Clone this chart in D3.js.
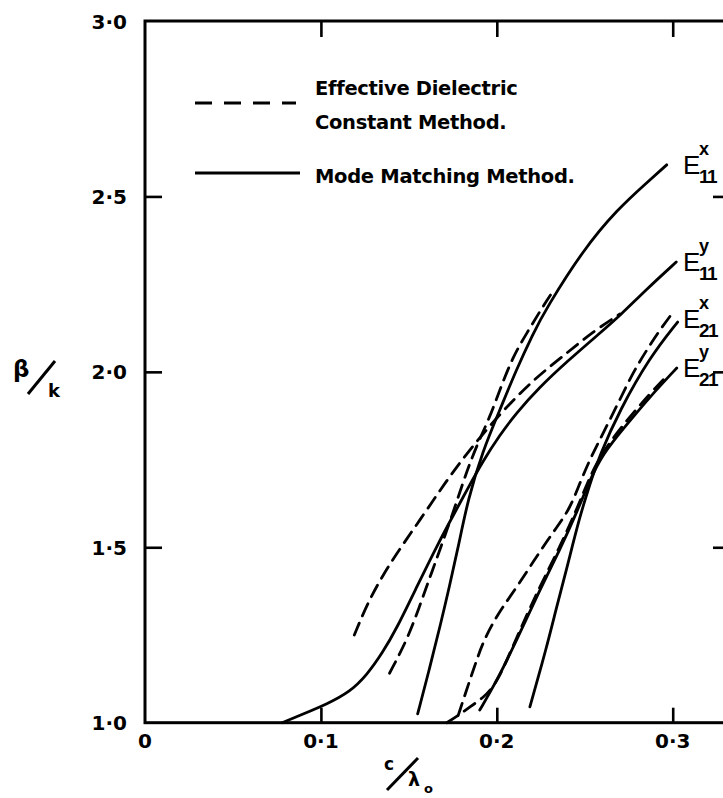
<!DOCTYPE html>
<html>
<head>
<meta charset="utf-8">
<script src="https://cdn.jsdelivr.net/npm/d3@7/dist/d3.min.js"></script>
<style>
  html, body { margin: 0; padding: 0; background: #fff; }
  svg { display: block; }
</style>
</head>
<body>
<svg id="chart" width="723" height="798"></svg>
<script>
// Normalised propagation constant β/k against guide size c/λo
// for the four lowest modes, comparing two methods.

const xTickValues = [0, 0.1, 0.2, 0.3];
const xTickLabels = ["0", "0·1", "0·2", "0·3"];
const yTickValues = [1.0, 1.5, 2.0, 2.5, 3.0];
const yTickLabels = ["1·0", "1·5", "2·0", "2·5", "3·0"];

const legendLabels = ["Effective Dielectric", "Constant Method.", "Mode Matching Method."];

// Mode Matching Method (solid)
const e11xMM = [[0.155,1.025],[0.162,1.159],[0.168,1.28],[0.173,1.387],[0.1785,1.51],[0.1835,1.635],
  [0.192,1.775],[0.2017,1.891],[0.211,2.005],[0.2205,2.108],[0.228,2.18],[0.249,2.347],[0.268,2.461],
  [0.287,2.547],[0.2966,2.59]];
const e11yMM = [[0.078,1.0],[0.09,1.025],[0.1034,1.053],[0.1165,1.088],[0.126,1.135],[0.135,1.199],
  [0.143,1.268],[0.1545,1.387],[0.166,1.505],[0.1773,1.61],[0.183,1.663],[0.192,1.745],[0.2017,1.82],
  [0.211,1.882],[0.224,1.955],[0.240,2.03],[0.2585,2.11],[0.27,2.16],[0.285,2.235],[0.302,2.313]];
const e21xMM = [[0.2188,1.045],[0.2284,1.216],[0.234,1.33],[0.2398,1.44],[0.247,1.585],[0.2528,1.678],
  [0.2585,1.763],[0.2699,1.891],[0.287,2.042],[0.3028,2.142]];
const e21yMM = [[0.1903,1.036],[0.200,1.119],[0.2114,1.236],[0.2244,1.378],[0.2358,1.492],[0.246,1.606],
  [0.2528,1.69],[0.260,1.765],[0.2739,1.85],[0.2869,1.928],[0.3023,2.011]];

// Effective Dielectric Constant Method (dashed)
const e11xEDC = [[0.139,1.141],[0.149,1.236],[0.156,1.33],[0.162,1.415],[0.1676,1.492],[0.175,1.597],
  [0.1807,1.683],[0.1847,1.74],[0.190,1.806],[0.196,1.871],[0.2017,1.948],[0.209,2.042],[0.217,2.11],
  [0.226,2.185],[0.232,2.23]];
const e11yEDC = [[0.119,1.25],[0.126,1.335],[0.135,1.42],[0.1466,1.508],[0.1545,1.565],[0.163,1.627],
  [0.169,1.672],[0.183,1.769],[0.2017,1.88],[0.2205,1.977],[0.240,2.054],[0.2545,2.114],[0.27,2.165]];
const e21xEDC = [[0.178,1.02],[0.1847,1.122],[0.1886,1.179],[0.192,1.227],[0.1977,1.284],[0.2034,1.33],
  [0.2114,1.387],[0.2188,1.444],[0.2261,1.5],[0.2341,1.557],[0.2415,1.61],[0.2472,1.683],[0.2528,1.749],
  [0.2585,1.806],[0.2642,1.863],[0.2699,1.92],[0.2773,1.997],[0.2852,2.062],[0.2926,2.119],[0.3011,2.176]];
const e21yEDC = [[0.1716,1.0],[0.178,1.02],[0.1847,1.045],[0.192,1.07],[0.200,1.11],[0.2114,1.245],
  [0.2244,1.388],[0.2358,1.5],[0.246,1.615],[0.2528,1.7],[0.260,1.772],[0.2739,1.862],[0.2869,1.937],[0.297,1.99]];

const modeLabels = [
  {sup: "x", sub: "11", at: 2.59},
  {sup: "y", sub: "11", at: 2.313},
  {sup: "x", sub: "21", at: 2.15},
  {sup: "y", sub: "21", at: 2.011}
];

const svg = d3.select("#chart");
const x = d3.scaleLinear().domain([0, 0.332]).range([145, 729]);
const y = d3.scaleLinear().domain([1, 3]).range([722.7, 21]);

const ink = "#000";
const tickFont = "'DejaVu Sans', sans-serif";

svg.append("rect").attr("width", 723).attr("height", 798).attr("fill", "#fff");

// frame
svg.append("rect")
  .attr("x", x(0)).attr("y", y(3))
  .attr("width", x(0.332) - x(0)).attr("height", y(1) - y(3))
  .attr("fill", "none").attr("stroke", ink).attr("stroke-width", 3);

// inward ticks on all four sides
const inner = [0.1, 0.2, 0.3];
const gB = svg.append("g").attr("transform", `translate(0,${y(1)})`)
  .call(d3.axisBottom(x).tickValues(inner).tickSize(-15).tickFormat(""));
const gT = svg.append("g").attr("transform", `translate(0,${y(3)})`)
  .call(d3.axisTop(x).tickValues(inner).tickSize(-16).tickFormat(""));
const gL = svg.append("g").attr("transform", `translate(${x(0)},0)`)
  .call(d3.axisLeft(y).tickValues([1.5, 2.0, 2.5]).tickSize(-17).tickFormat(""));
const gR = svg.append("g").attr("transform", `translate(${x(0.332)},0)`)
  .call(d3.axisRight(y).tickValues([1.5, 2.0, 2.5]).tickSize(-16).tickFormat(""));
[gB, gT, gL, gR].forEach(g => {
  g.select(".domain").remove();
  g.selectAll(".tick line").attr("stroke", ink).attr("stroke-width", 2.6);
});

// tick labels
svg.append("g").selectAll("text").data(xTickValues).join("text")
  .attr("x", d => x(d)).attr("y", 748)
  .attr("text-anchor", "middle")
  .attr("font-family", tickFont).attr("font-weight", "bold").attr("font-size", 20)
  .text((d, i) => xTickLabels[i]);
svg.append("g").selectAll("text").data(yTickValues).join("text")
  .attr("x", 127).attr("y", d => y(d) + 7.5)
  .attr("text-anchor", "end")
  .attr("font-family", tickFont).attr("font-weight", "bold").attr("font-size", 20)
  .text((d, i) => yTickLabels[i]);

// axis titles: β/k and c/λo
const yTitle = svg.append("g");
yTitle.append("text").attr("x", 13).attr("y", 377)
  .attr("font-family", tickFont).attr("font-weight", "bold").attr("font-size", 23).text("β");
yTitle.append("line").attr("x1", 28).attr("y1", 394).attr("x2", 55).attr("y2", 361)
  .attr("stroke", ink).attr("stroke-width", 3);
yTitle.append("text").attr("x", 48).attr("y", 397)
  .attr("font-family", tickFont).attr("font-weight", "bold").attr("font-size", 18).text("k");

const xTitle = svg.append("g");
xTitle.append("text").attr("x", 384).attr("y", 770)
  .attr("font-family", tickFont).attr("font-weight", "bold").attr("font-size", 17).text("c");
xTitle.append("line").attr("x1", 387).attr("y1", 790).attr("x2", 418).attr("y2", 758)
  .attr("stroke", ink).attr("stroke-width", 3);
xTitle.append("text").attr("x", 408).attr("y", 786)
  .attr("font-family", tickFont).attr("font-weight", "bold").attr("font-size", 19).text("λ");
xTitle.append("text").attr("x", 424).attr("y", 793)
  .attr("font-family", tickFont).attr("font-weight", "bold").attr("font-size", 13).text("o");

// curves
const line = d3.line().x(d => x(d[0])).y(d => y(d[1])).curve(d3.curveBasis);
const curves = [
  {data: e11xMM, dash: null}, {data: e11yMM, dash: null},
  {data: e21xMM, dash: null}, {data: e21yMM, dash: null},
  {data: e11xEDC, dash: "13,8"}, {data: e11yEDC, dash: "13,8"},
  {data: e21xEDC, dash: "13,8"}, {data: e21yEDC, dash: "13,8"}
];
svg.append("g").selectAll("path").data(curves).join("path")
  .attr("d", d => line(d.data))
  .attr("fill", "none").attr("stroke", ink).attr("stroke-width", 2.8)
  .attr("stroke-linecap", "round")
  .attr("stroke-dasharray", d => d.dash);

// mode labels at the ends of the curves
const labelFont = "'Liberation Sans', 'DejaVu Sans', sans-serif";
const ml = svg.append("g").selectAll("g").data(modeLabels).join("g")
  .attr("transform", d => `translate(683,${y(d.at) + 9})`);
ml.append("text").attr("x", 0).attr("y", 0)
  .attr("font-family", labelFont).attr("font-size", 26).text("E");
ml.append("text").attr("x", 16).attr("y", -19)
  .attr("font-family", labelFont).attr("font-weight", "bold").attr("font-size", 18).text(d => d.sup);
ml.append("text").attr("x", 16).attr("y", 9)
  .attr("font-family", labelFont).attr("font-weight", "bold").attr("font-size", 19)
  .attr("letter-spacing", -1.5).text(d => d.sub);

// legend
const legendFont = "'DejaVu Sans', sans-serif";
const lg = svg.append("g");
lg.append("line").attr("x1", 195).attr("x2", 296).attr("y1", 103).attr("y2", 103)
  .attr("stroke", ink).attr("stroke-width", 3).attr("stroke-dasharray", "17,12");
lg.append("line").attr("x1", 195).attr("x2", 300).attr("y1", 173).attr("y2", 173)
  .attr("stroke", ink).attr("stroke-width", 3);
lg.selectAll("text").data(legendLabels).join("text")
  .attr("x", 315).attr("y", (d, i) => [95, 129, 183][i])
  .attr("font-family", legendFont).attr("font-weight", "bold").attr("font-size", 19.5)
  .attr("letter-spacing", -0.3)
  .text(d => d);
</script>
</body>
</html>
